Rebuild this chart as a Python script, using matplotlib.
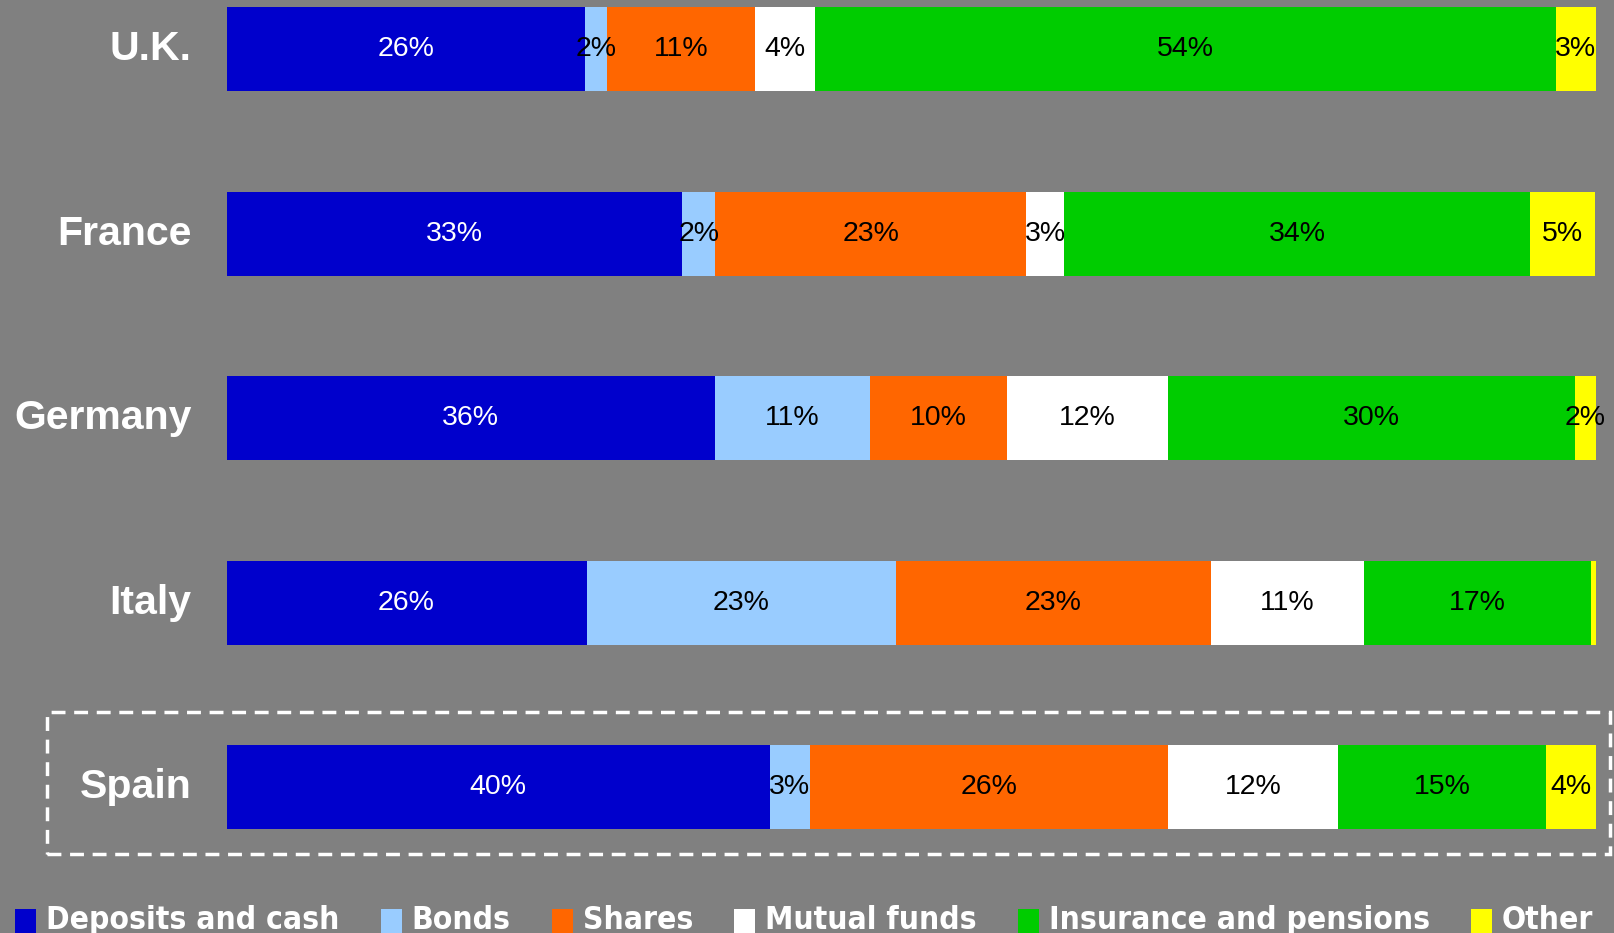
import numpy as np
import matplotlib.pyplot as plt
from matplotlib import font_manager
from matplotlib.patches import Rectangle

countries = ["U.K.", "France", "Germany", "Italy", "Spain"]
categories = ["Deposits and cash", "Bonds", "Shares", "Mutual funds",
              "Insurance and pensions", "Other"]
colors = ["#0000CC", "#99CCFF", "#FF6600", "#FFFFFF", "#00CC00", "#FFFF00"]
label_colors = ["white", "black", "black", "black", "black", "black"]

# share of household financial assets, % (rows follow countries)
deposits = [26.2, 33.3, 35.7, 26.3, 39.7]
bonds = [1.6, 2.4, 11.3, 22.6, 2.9]
shares = [10.8, 22.7, 10.0, 23.0, 26.2]
mutual_funds = [4.4, 2.8, 11.8, 11.2, 12.4]
insurance = [54.1, 34.0, 29.7, 16.6, 15.2]
other = [2.9, 4.8, 1.5, 0.3, 3.6]

BG = "#808080"
W, H = 1614, 933

fig = plt.figure(figsize=(W / 100, H / 100), dpi=100, facecolor=BG)
ax = fig.add_axes([226.5 / W, 0, 1369 / W, 1])
ax.set_facecolor(BG)
ax.set_xlim(0, 100)
ax.set_ylim(4.789, -0.2654)
ax.axis("off")

data = np.array([deposits, bonds, shares, mutual_funds, insurance, other])
y = np.arange(len(countries))
left = np.zeros(len(countries))
for k, vals in enumerate(data):
    ax.barh(y, vals, left=left, height=0.455, color=colors[k], linewidth=0)
    for i, v in enumerate(vals):
        if v >= 0.5:
            ax.text(left[i] + v / 2, y[i], f"{v:.0f}%", ha="center", va="center",
                    color=label_colors[k], fontsize=20.5, family="Liberation Sans")
    left += vals

for i, name in enumerate(countries):
    ax.text(-0.0256, y[i], name, transform=ax.get_yaxis_transform(),
            ha="right", va="center", color="white", fontsize=29.5,
            fontweight="bold", family="Liberation Sans", clip_on=False)

# dashed frame around Spain
fig.patches.append(Rectangle((47 / W, 1 - 854 / H), (1610 - 47) / W, (854 - 712) / H,
                             transform=fig.transFigure, fill=False, edgecolor="white",
                             linewidth=2.5, linestyle=(0, (4, 2.5))))

# legend in a narrow bold face, laid out by hand along the bottom edge
names = {f.name for f in font_manager.fontManager.ttflist}
if "Liberation Sans Narrow" in names:
    leg_font = dict(family="Liberation Sans Narrow", weight="bold")
else:
    leg_font = dict(family="DejaVu Sans", weight="bold", stretch="condensed")

renderer = fig.canvas.get_renderer()
probe = fig.text(0, 0, categories[0], fontsize=25, **leg_font)
scale = 294 / probe.get_window_extent(renderer).width
probe.remove()
leg_size = 25 * scale

x = 15.4
base = 1 - 929 / H
for c, name in zip(colors, categories):
    fig.patches.append(Rectangle((x / W, base - 0.01), 21 / W, (929 - 909) / H + 0.01,
                                 transform=fig.transFigure, facecolor=c, edgecolor="none"))
    t = fig.text((x + 31) / W, base, name, color="white", fontsize=leg_size,
                 va="baseline", ha="left", **leg_font)
    x += 31 + t.get_window_extent(renderer).width + 41

fig.savefig("out.png", dpi=100, facecolor=BG)
